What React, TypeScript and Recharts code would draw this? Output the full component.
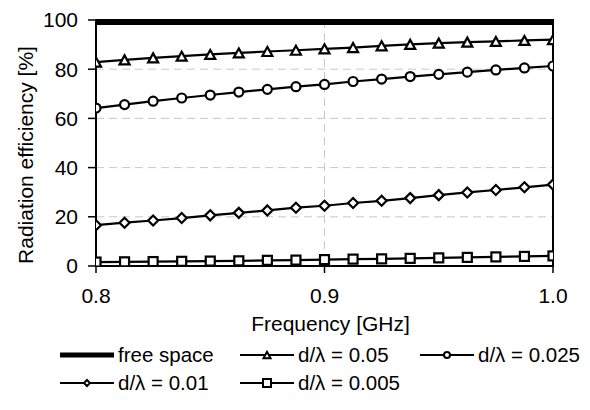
import React from 'react';
import { LineChart, Line, XAxis, YAxis, CartesianGrid, Legend, ReferenceArea } from 'recharts';

const frequencies = [0.8, 0.8125, 0.825, 0.8375, 0.85, 0.8625, 0.875, 0.8875, 0.9, 0.9125, 0.925, 0.9375, 0.95, 0.9625, 0.975, 0.9875, 1.0];
const freeSpace = [99, 99, 99, 99, 99, 99, 99, 99, 99, 99, 99, 99, 99, 99, 99, 99, 99];
const d050 = [82.9, 83.8, 84.6, 85.3, 86.0, 86.6, 87.2, 87.7, 88.3, 88.8, 89.5, 90.1, 90.6, 91.0, 91.3, 91.7, 92.0];
const d025 = [64.2, 65.6, 67.0, 68.3, 69.5, 70.7, 71.8, 72.9, 73.8, 75.0, 76.0, 77.0, 77.9, 78.8, 79.7, 80.5, 81.3];
const d010 = [16.6, 17.6, 18.5, 19.5, 20.6, 21.6, 22.6, 23.7, 24.5, 25.6, 26.5, 27.6, 28.8, 29.9, 30.9, 32.0, 33.1];
const d005 = [1.6, 1.7, 1.8, 1.9, 2.0, 2.1, 2.3, 2.4, 2.6, 2.8, 2.9, 3.1, 3.3, 3.5, 3.7, 3.9, 4.1];
const xTicks = [0.8, 0.9, 1.0];
const yTicks = [0, 20, 40, 60, 80, 100];

const seriesDefs = [
  { key: 'free', name: 'free space', marker: 'none' },
  { key: 'd050', name: 'd/\u03bb = 0.05', marker: 'triangle' },
  { key: 'd025', name: 'd/\u03bb = 0.025', marker: 'circle' },
  { key: 'd010', name: 'd/\u03bb = 0.01', marker: 'diamond' },
  { key: 'd005', name: 'd/\u03bb = 0.005', marker: 'square' },
];

const data = frequencies.map((f, i) => ({
  f,
  free: freeSpace[i],
  d050: d050[i],
  d025: d025[i],
  d010: d010[i],
  d005: d005[i],
}));

const FONT = 'Liberation Sans, Arial, sans-serif';

function markerShape(type: string, cx: number, cy: number, s: number, key?: any, sw: number = 2) {
  const common = { stroke: '#000', strokeWidth: sw, fill: '#fff' };
  if (type === 'triangle') {
    const h = s * 0.9;
    return <polygon key={key} points={`${cx - s / 2},${cy + h / 2} ${cx + s / 2},${cy + h / 2} ${cx},${cy - h / 2}`} {...common} />;
  }
  if (type === 'circle') {
    return <circle key={key} cx={cx} cy={cy} r={s / 2} {...common} />;
  }
  if (type === 'diamond') {
    const r = s / 2;
    return <polygon key={key} points={`${cx},${cy - r} ${cx + r},${cy} ${cx},${cy + r} ${cx - r},${cy}`} {...common} />;
  }
  if (type === 'square') {
    return <rect key={key} x={cx - s / 2} y={cy - s / 2} width={s} height={s} {...common} />;
  }
  return <g key={key} />;
}

const makeDot = (type: string, size: number) => (props: any) => {
  const { cx, cy, index } = props;
  return markerShape(type, cx, cy, size, `${type}-${index}`, 2.2);
};

const dotSizes: Record<string, number> = { triangle: 10, circle: 9, diamond: 10, square: 9 };
const legendSizes: Record<string, number> = { triangle: 7, circle: 6, diamond: 6, square: 8 };

const LegendContent = () => {
  const colX = [60, 240, 420];
  const rowY = [9, 37];
  return (
    <div style={{ position: 'relative', width: 590, height: 64 }}>
      <svg width={590} height={64} style={{ position: 'absolute', left: 0, top: 0, overflow: 'visible' }}>
        {seriesDefs.map((s, i) => {
          const col = i < 3 ? i : i - 3;
          const row = i < 3 ? 0 : 1;
          const x = colX[col];
          const y = rowY[row];
          return (
            <g key={s.key}>
              <line x1={x} x2={x + 54} y1={y} y2={y} stroke="#000" strokeWidth={s.marker === 'none' ? 5 : 2} />
              {markerShape(s.marker, x + 27, y, legendSizes[s.marker] || 0)}
              <text x={x + 58} y={y} dy="0.36em" fontFamily={FONT} fontSize={20.5} fill="#000">{s.name}</text>
            </g>
          );
        })}
      </svg>
    </div>
  );
};

const YLabel = (props: any) => {
  const vb = props.viewBox || {};
  const cx = 25;
  const cy = vb.y + vb.height / 2 + 12;
  return (
    <text x={cx} y={cy} transform={`rotate(-90 ${cx} ${cy})`} textAnchor="middle" dominantBaseline="central" fontFamily={FONT} fontSize={21} fill="#000">
      Radiation efficiency [%]
    </text>
  );
};

const XLabel = (props: any) => {
  const vb = props.viewBox || {};
  const cx = vb.x + vb.width / 2 + 6;
  const cy = 323;
  return (
    <text x={cx} y={cy} textAnchor="middle" dominantBaseline="central" fontFamily={FONT} fontSize={21} fill="#000">
      Frequency [GHz]
    </text>
  );
};

export default function App() {
  return (
    <div style={{ position: 'absolute', left: 0, top: 0, width: 590, height: 410, background: '#fff' }}>
      <LineChart width={590} height={410} data={data} margin={{ top: 20, right: 37, left: 0, bottom: 0 }}>
        <CartesianGrid stroke="#c8c8c8" strokeDasharray="8 5" />
        <XAxis
          dataKey="f"
          type="number"
          domain={[0.8, 1.0]}
          ticks={xTicks}
          tickFormatter={(v: number) => v.toFixed(1)}
          height={80}
          tickSize={7}
          tickMargin={15}
          axisLine={{ stroke: '#000', strokeWidth: 2 }}
          tickLine={{ stroke: '#000', strokeWidth: 1.5 }}
          tick={{ fill: '#000', fontSize: 21, fontFamily: FONT }}
          label={<XLabel />}
          allowDataOverflow
        />
        <YAxis
          domain={[0, 100]}
          ticks={yTicks}
          width={96}
          tickSize={8}
          tickMargin={10}
          axisLine={{ stroke: '#000', strokeWidth: 2 }}
          tickLine={{ stroke: '#000', strokeWidth: 1.5 }}
          tick={{ fill: '#000', fontSize: 21, fontFamily: FONT }}
          label={<YLabel />}
          allowDataOverflow
        />
        <ReferenceArea x1={0.8} x2={1.0} y1={0} y2={100} fill="none" fillOpacity={0} stroke="#000" strokeWidth={2} />
        <Legend verticalAlign="bottom" align="left" height={64} wrapperStyle={{ left: 0, width: 590 }} content={<LegendContent />} />
        <Line dataKey="free" name="free space" stroke="#000" strokeWidth={5} dot={false} isAnimationActive={false} />
        <Line dataKey="d050" name="d/λ = 0.05" stroke="#000" strokeWidth={2.2} dot={makeDot('triangle', dotSizes.triangle)} isAnimationActive={false} />
        <Line dataKey="d025" name="d/λ = 0.025" stroke="#000" strokeWidth={2.2} dot={makeDot('circle', dotSizes.circle)} isAnimationActive={false} />
        <Line dataKey="d010" name="d/λ = 0.01" stroke="#000" strokeWidth={2.2} dot={makeDot('diamond', dotSizes.diamond)} isAnimationActive={false} />
        <Line dataKey="d005" name="d/λ = 0.005" stroke="#000" strokeWidth={2.2} dot={makeDot('square', dotSizes.square)} isAnimationActive={false} />
      </LineChart>
    </div>
  );
}
